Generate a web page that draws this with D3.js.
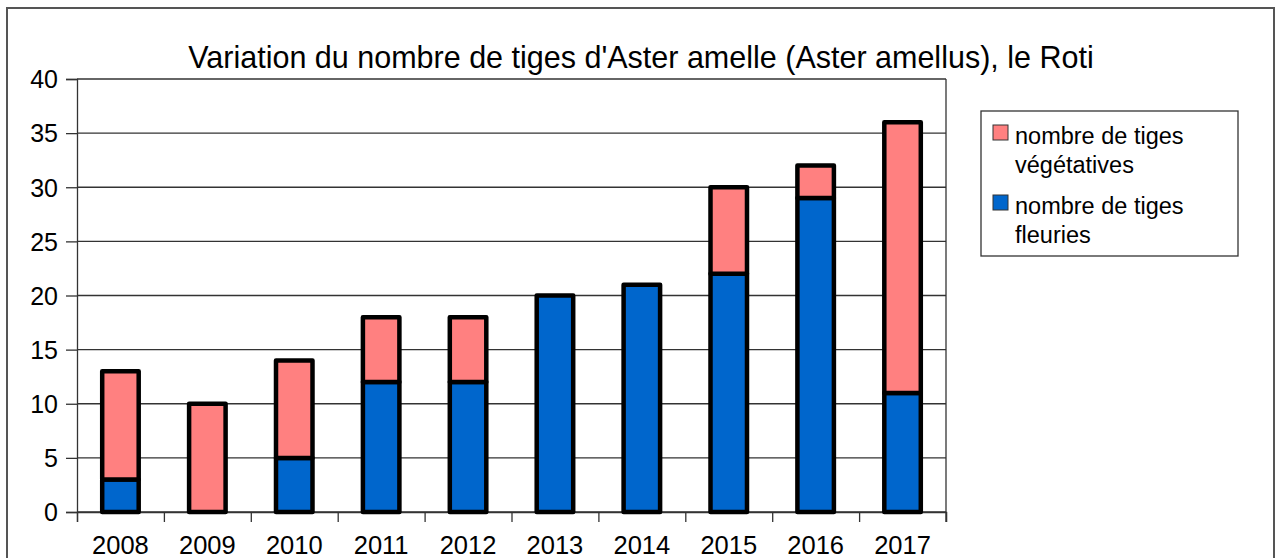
<!DOCTYPE html>
<html lang="fr">
<head>
<meta charset="utf-8">
<script src="https://d3js.org/d3.v7.min.js"></script>
<style>
  body { margin: 0; background: #fff; }
  svg { display: block; }
  text { font-family: "Liberation Sans", Arial, sans-serif; fill: #000; }
</style>
</head>
<body>
<svg id="chart" width="1277" height="558"></svg>
<script>
// data
const years = ['2008', '2009', '2010', '2011', '2012', '2013', '2014', '2015', '2016', '2017'];
const fleuries = [3, 0, 5, 12, 12, 20, 21, 22, 29, 11];
const vegetatives = [10, 10, 9, 6, 6, 0, 0, 8, 3, 25];
const yTicks = [0, 5, 10, 15, 20, 25, 30, 35, 40];
const seriesColors = ['#ff8080', '#0066cc'];

const svg = d3.select('#chart');
const margin = { left: 77, right: 946, top: 79, bottom: 512 };

// outer frame
svg.append('rect')
  .attr('x', 7).attr('y', 8)
  .attr('width', 1267).attr('height', 560)
  .attr('fill', 'none')
  .attr('stroke', '#555')
  .attr('stroke-width', 2);

svg.append('text')
  .attr('x', 641)
  .attr('y', 68)
  .attr('text-anchor', 'middle')
  .style('font-size', '30.5px')
  .text("Variation du nombre de tiges d'Aster amelle (Aster amellus), le Roti");

const x = d3.scaleBand()
  .domain(years)
  .range([margin.left, margin.right])
  .paddingInner(0.58)
  .paddingOuter(0.29);

const xTickScale = d3.scaleLinear()
  .domain([0, years.length])
  .range([margin.left, margin.right]);

const y = d3.scaleLinear()
  .domain([0, 40])
  .range([margin.bottom, margin.top]);

// gridlines
svg.append('g')
  .selectAll('line')
  .data(yTicks)
  .join('line')
  .attr('x1', margin.left).attr('x2', margin.right)
  .attr('y1', d => y(d)).attr('y2', d => y(d))
  .attr('stroke', '#333')
  .attr('stroke-width', 1.3);

// right border of plot
svg.append('line')
  .attr('x1', margin.right).attr('x2', margin.right)
  .attr('y1', margin.top).attr('y2', margin.bottom + 10)
  .attr('stroke', '#333')
  .attr('stroke-width', 1.3);

// y axis
const yAxis = svg.append('g')
  .attr('transform', `translate(${margin.left},0)`)
  .call(d3.axisLeft(y).tickValues(yTicks).tickSize(11).tickPadding(8));
yAxis.select('.domain').attr('stroke', '#333').attr('stroke-width', 1.3);
yAxis.selectAll('.tick line').attr('stroke', '#333').attr('stroke-width', 1.3);
yAxis.selectAll('text')
  .style('font-size', '25px')
  .style('font-family', '"Liberation Sans", Arial, sans-serif')
  .attr('dy', '0.35em');

// x axis: ticks at category boundaries
const xAxis = svg.append('g')
  .attr('transform', `translate(0,${margin.bottom})`)
  .call(d3.axisBottom(xTickScale).tickValues(d3.range(years.length + 1)).tickSize(10).tickFormat(''));
xAxis.select('.domain').attr('stroke', '#333').attr('stroke-width', 1.3);
xAxis.selectAll('.tick line').attr('stroke', '#333').attr('stroke-width', 1.3);

svg.append('g')
  .selectAll('text')
  .data(years)
  .join('text')
  .attr('x', d => x(d) + x.bandwidth() / 2)
  .attr('y', 554)
  .attr('text-anchor', 'middle')
  .style('font-size', '25.5px')
  .text(d => d);

// stacked bars
const rows = years.map((yr, i) => ({ year: yr, fleuries: fleuries[i], vegetatives: vegetatives[i] }));
const stack = d3.stack().keys(['fleuries', 'vegetatives'])(rows);
const colorOf = { fleuries: seriesColors[1], vegetatives: seriesColors[0] };

stack.forEach(layer => {
  svg.append('g')
    .selectAll('rect')
    .data(layer.filter(d => d[1] - d[0] > 0))
    .join('rect')
    .attr('x', d => x(d.data.year))
    .attr('y', d => y(d[1]))
    .attr('width', x.bandwidth())
    .attr('height', d => y(d[0]) - y(d[1]))
    .attr('fill', colorOf[layer.key])
    .attr('stroke', '#000')
    .attr('stroke-width', 4.5)
    .attr('stroke-linejoin', 'round');
});

// legend
const legend = svg.append('g');
legend.append('rect')
  .attr('x', 981).attr('y', 111)
  .attr('width', 257).attr('height', 145)
  .attr('fill', '#fff')
  .attr('stroke', '#333')
  .attr('stroke-width', 1.3);

const legendItems = [
  { color: seriesColors[0], lines: ['nombre de tiges', 'végétatives'], top: 125 },
  { color: seriesColors[1], lines: ['nombre de tiges', 'fleuries'], top: 195 }
];
legendItems.forEach(it => {
  legend.append('rect')
    .attr('x', 993).attr('y', it.top)
    .attr('width', 15).attr('height', 15)
    .attr('fill', it.color)
    .attr('stroke', '#333')
    .attr('stroke-width', 1);
  it.lines.forEach((ln, j) => {
    legend.append('text')
      .attr('x', 1015)
      .attr('y', it.top + 19 + j * 29)
      .style('font-size', '23.5px')
      .text(ln);
  });
});
</script>
</body>
</html>
